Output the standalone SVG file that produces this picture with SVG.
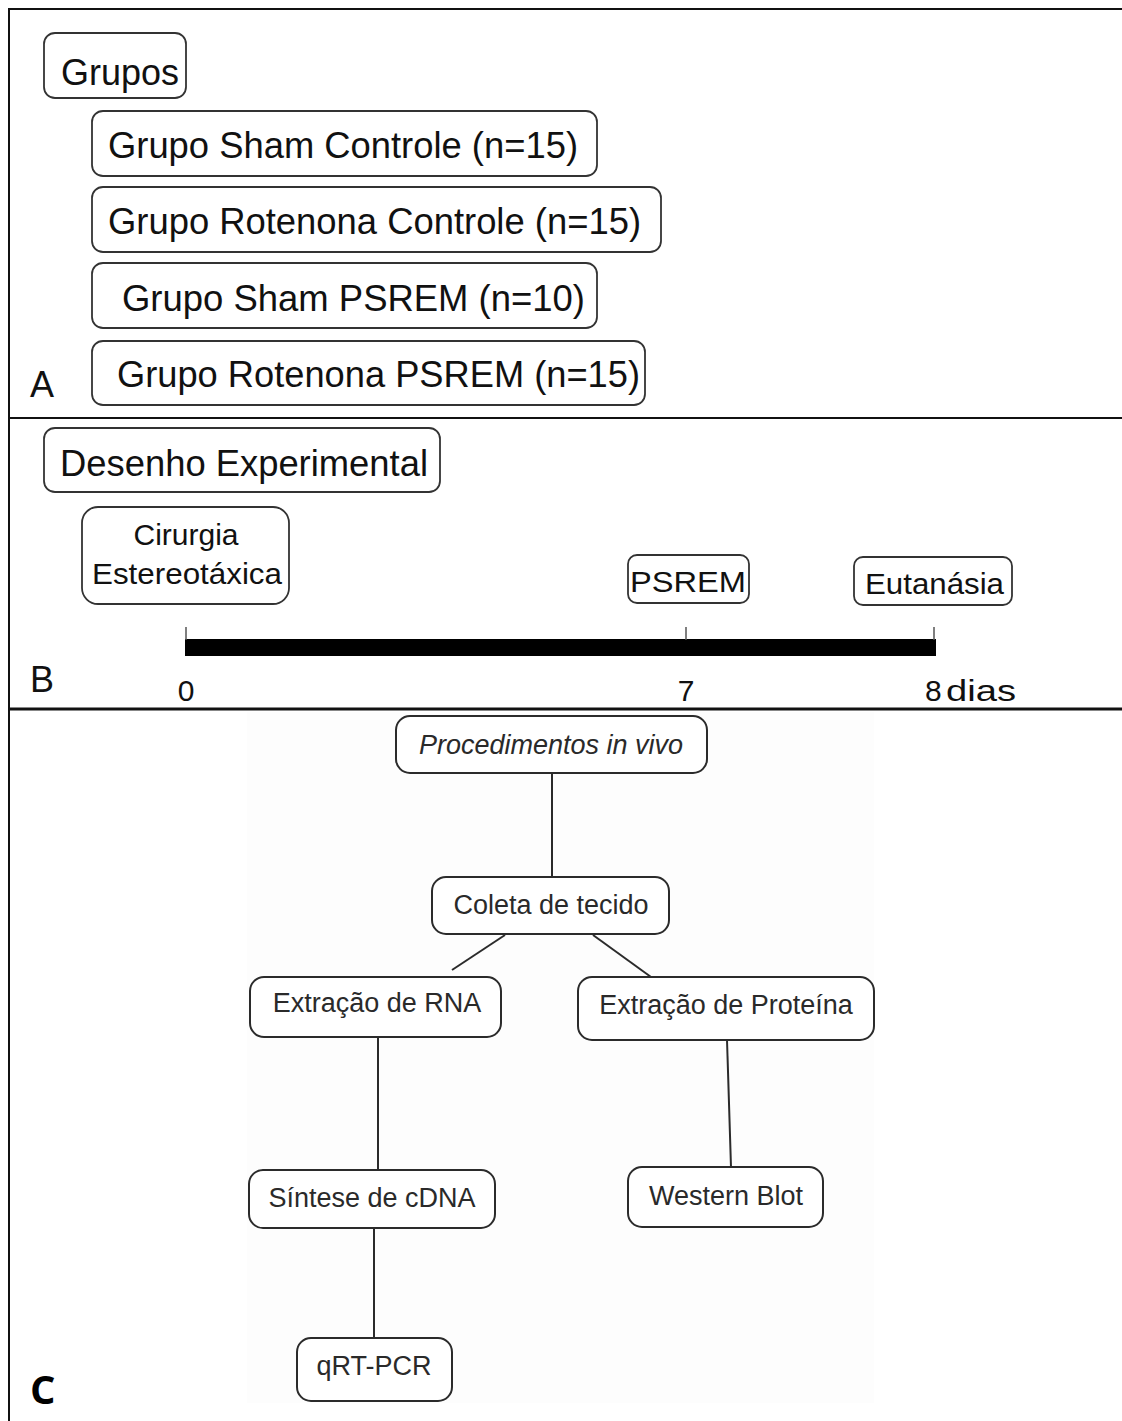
<svg xmlns="http://www.w3.org/2000/svg" width="1122" height="1421" viewBox="0 0 1122 1421">
  <style>
    .frame { stroke: #111; fill: none; }
    .boxA { fill: #fff; stroke: #333; stroke-width: 1.8; }
    .boxC { fill: #fff; stroke: #2b2b2b; stroke-width: 2; }
    .tA { font-family: "Liberation Sans", Arial, sans-serif; font-size: 36px; fill: #111; }
    .tB { font-family: "Liberation Sans", Arial, sans-serif; font-size: 30px; fill: #111; }
    .tC { font-family: "Liberation Sans", Arial, sans-serif; font-size: 27px; fill: #2a2a2a; text-anchor: middle; }
    .lbl { font-family: "Liberation Sans", Arial, sans-serif; font-size: 36px; fill: #111; }
    .edge { stroke: #2b2b2b; stroke-width: 2; fill: none; }
    .tick { stroke: #555; stroke-width: 1.5; }
  </style>
  <rect x="0" y="0" width="1122" height="1421" fill="#fff"/>

  <g id="frame">
    <line class="frame" x1="9" y1="8" x2="9" y2="1421" stroke-width="2"/>
    <line class="frame" x1="8" y1="9" x2="1122" y2="9" stroke-width="2"/>
    <line class="frame" x1="8" y1="418" x2="1122" y2="418" stroke-width="2"/>
    <line class="frame" x1="8" y1="709" x2="1122" y2="709" stroke-width="3"/>
  </g>

  <g id="panelA">
    <text class="lbl" x="30" y="397">A</text>
    <g id="grupos">
      <rect class="boxA" x="44" y="33" width="142" height="65" rx="11"/>
      <text class="tA" x="61" y="85" textLength="118" lengthAdjust="spacingAndGlyphs">Grupos</text>
    </g>
    <g id="sham-controle">
      <rect class="boxA" x="92" y="111" width="505" height="65" rx="11"/>
      <text class="tA" x="108" y="158" textLength="470" lengthAdjust="spacingAndGlyphs">Grupo Sham Controle (n=15)</text>
    </g>
    <g id="rotenona-controle">
      <rect class="boxA" x="92" y="187" width="569" height="65" rx="11"/>
      <text class="tA" x="108" y="234" textLength="533" lengthAdjust="spacingAndGlyphs">Grupo Rotenona Controle (n=15)</text>
    </g>
    <g id="sham-psrem">
      <rect class="boxA" x="92" y="263" width="505" height="65" rx="11"/>
      <text class="tA" x="122" y="311" textLength="463" lengthAdjust="spacingAndGlyphs">Grupo Sham PSREM (n=10)</text>
    </g>
    <g id="rotenona-psrem">
      <rect class="boxA" x="92" y="341" width="553" height="64" rx="11"/>
      <text class="tA" x="117" y="387" textLength="523" lengthAdjust="spacingAndGlyphs">Grupo Rotenona PSREM (n=15)</text>
    </g>
  </g>

  <g id="panelB">
    <text class="lbl" x="30" y="692">B</text>
    <g id="desenho">
      <rect class="boxA" x="44" y="428" width="396" height="64" rx="11"/>
      <text class="tA" x="60" y="476" textLength="368" lengthAdjust="spacingAndGlyphs">Desenho Experimental</text>
    </g>
    <g id="cirurgia">
      <rect class="boxA" x="82" y="507" width="207" height="97" rx="16"/>
      <text class="tB" x="186" y="545" text-anchor="middle">Cirurgia</text>
      <text class="tB" x="92" y="584" textLength="190" lengthAdjust="spacingAndGlyphs">Estereotáxica</text>
    </g>
    <g id="psrem">
      <rect class="boxA" x="628" y="555" width="121" height="48" rx="9"/>
      <text class="tB" x="630" y="592" textLength="116" lengthAdjust="spacingAndGlyphs">PSREM</text>
    </g>
    <g id="eutanasia">
      <rect class="boxA" x="854" y="557" width="158" height="48" rx="9"/>
      <text class="tB" x="865" y="594" textLength="139" lengthAdjust="spacingAndGlyphs">Eutanásia</text>
    </g>
    <g id="timeline">
      <rect x="185" y="639" width="751" height="17" fill="#000"/>
      <line class="tick" x1="186" y1="627" x2="186" y2="640"/>
      <line class="tick" x1="686" y1="627" x2="686" y2="640"/>
      <line class="tick" x1="934" y1="627" x2="934" y2="640"/>
      <text class="tB" x="186" y="701" text-anchor="middle" font-size="32">0</text>
      <text class="tB" x="686" y="701" text-anchor="middle" font-size="32">7</text>
      <text class="tB" x="925" y="701" font-size="32">8</text>
      <text class="tB" x="946" y="701" font-size="34" textLength="70" lengthAdjust="spacingAndGlyphs">dias</text>
    </g>
  </g>

  <g id="panelC">
    <rect x="247" y="712" width="627" height="691" fill="#fdfdfd"/>
    <text x="30" y="1404" font-family="'Open Sans', 'Liberation Sans', sans-serif" font-weight="700" font-size="40" fill="#000">C</text>
    <g id="connectors">
      <line class="edge" x1="552" y1="773" x2="552" y2="877"/>
      <line class="edge" x1="505" y1="935" x2="452" y2="970"/>
      <line class="edge" x1="593" y1="935" x2="651" y2="977"/>
      <line class="edge" x1="378" y1="1037" x2="378" y2="1170"/>
      <line class="edge" x1="727" y1="1040" x2="731" y2="1167"/>
      <line class="edge" x1="374" y1="1228" x2="374" y2="1338"/>
    </g>
    <g id="procedimentos">
      <rect class="boxC" x="396" y="716" width="311" height="57" rx="14"/>
      <text class="tC" x="551" y="754" font-style="italic">Procedimentos in vivo</text>
    </g>
    <g id="coleta">
      <rect class="boxC" x="432" y="877" width="237" height="57" rx="14"/>
      <text class="tC" x="551" y="914">Coleta de tecido</text>
    </g>
    <g id="rna">
      <rect class="boxC" x="250" y="977" width="251" height="60" rx="14"/>
      <text class="tC" x="377" y="1012">Extração de RNA</text>
    </g>
    <g id="proteina">
      <rect class="boxC" x="578" y="977" width="296" height="63" rx="14"/>
      <text class="tC" x="726" y="1014">Extração de Proteína</text>
    </g>
    <g id="sintese">
      <rect class="boxC" x="249" y="1170" width="246" height="58" rx="14"/>
      <text class="tC" x="372" y="1207">Síntese de cDNA</text>
    </g>
    <g id="western">
      <rect class="boxC" x="628" y="1167" width="195" height="60" rx="14"/>
      <text class="tC" x="726" y="1205">Western Blot</text>
    </g>
    <g id="qrtpcr">
      <rect class="boxC" x="297" y="1338" width="155" height="63" rx="14"/>
      <text class="tC" x="374" y="1375">qRT-PCR</text>
    </g>
  </g>
</svg>
